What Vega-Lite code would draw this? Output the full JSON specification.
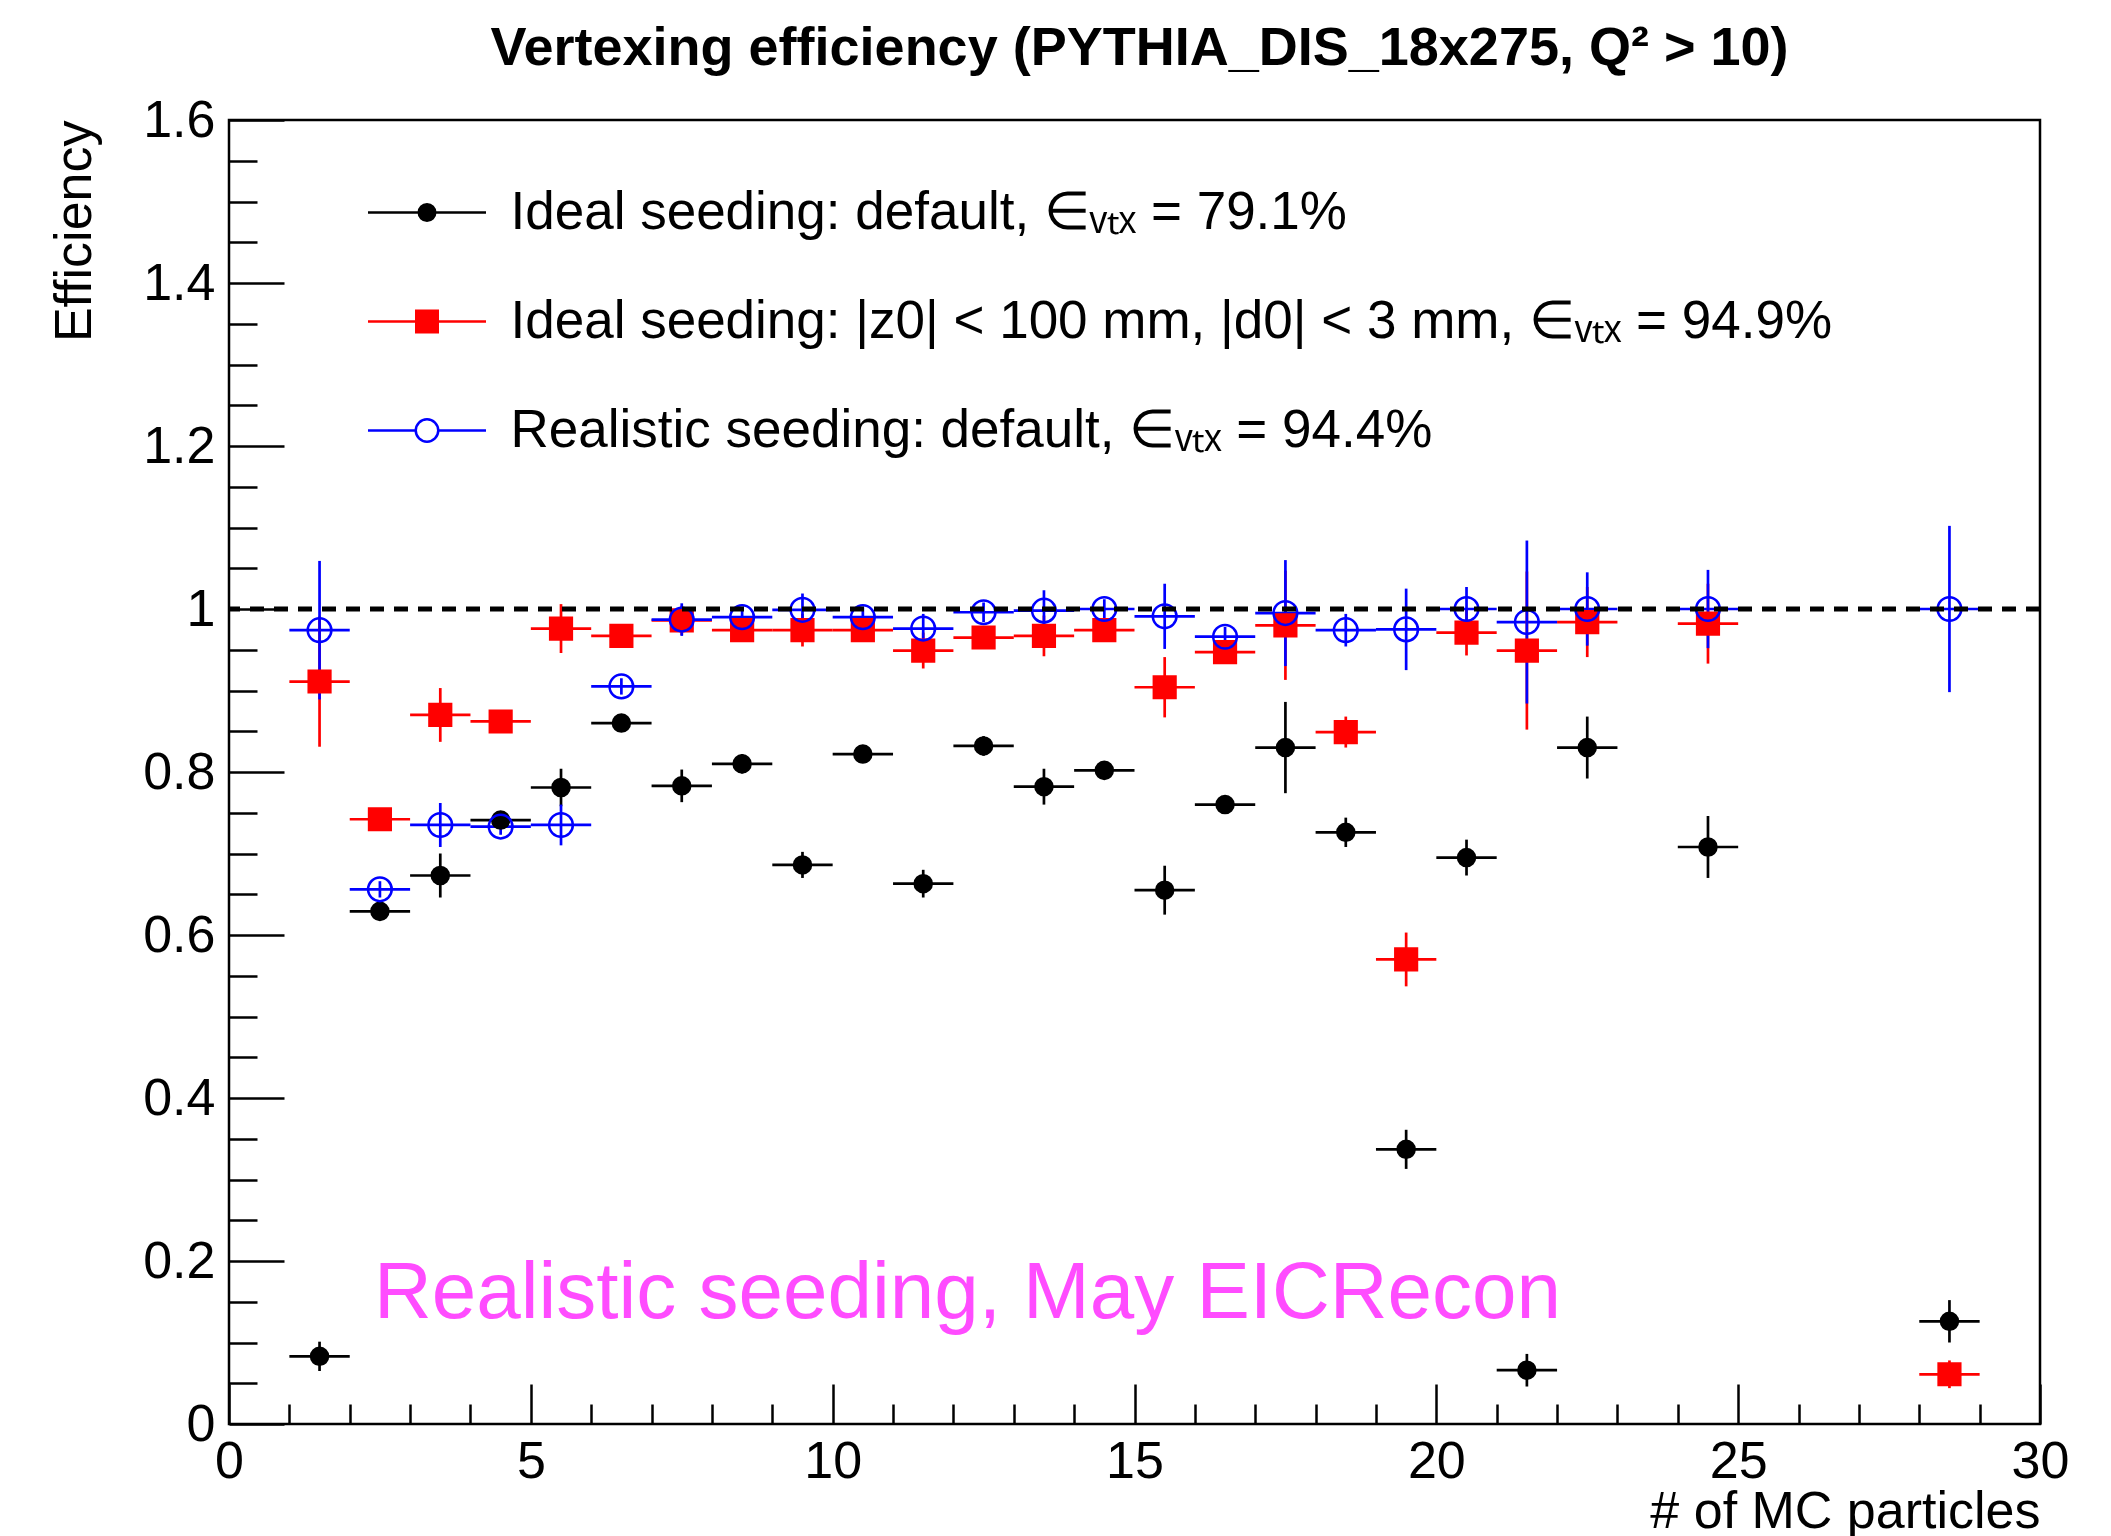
{
  "$schema": "https://vega.github.io/schema/vega-lite/v6.json",
  "width": 1811,
  "height": 1304,
  "autosize": {"type": "none"},
  "padding": {"left": 229, "top": 120, "right": 71, "bottom": 112},
  "background": "white",
  "title": {
    "text": "Vertexing efficiency (PYTHIA_DIS_18x275, Q² > 10)",
    "font": "Liberation Sans",
    "fontSize": 54,
    "fontWeight": "bold",
    "color": "#000",
    "anchor": "middle",
    "frame": "group",
    "baseline": "alphabetic",
    "offset": 14,
    "dx": 5,
    "dy": 39
  },
  "config": {
    "view": {"stroke": "#000", "strokeWidth": 2.5},
    "axis": {
      "grid": false,
      "domain": false,
      "labelFont": "Liberation Sans",
      "labelFontSize": 52,
      "labelColor": "#000",
      "tickColor": "#000",
      "tickWidth": 2.5,
      "titleFont": "Liberation Sans",
      "titleFontSize": 52,
      "titleFontWeight": "normal",
      "titleColor": "#000",
      "labelFlush": false,
      "labelOverlap": false
    },
    "legend": {
      "orient": "none",
      "legendX": 171.5,
      "legendY": 66,
      "padding": 0,
      "symbolSize": 1600,
      "symbolStrokeWidth": 2.5,
      "symbolOffset": 0,
      "labelFont": "Liberation Sans",
      "labelFontSize": 53,
      "labelColor": "#000",
      "labelOffset": 57,
      "labelLimit": 3000,
      "rowPadding": 55
    }
  },
  "data": {
    "values": [
      {"s":"a","n":1.5,"x0":1,"x1":2,"e":0.083,"lo":0.065,"hi":0.101},
      {"s":"a","n":2.5,"x0":2,"x1":3,"e":0.629,"lo":0.619,"hi":0.639},
      {"s":"a","n":3.5,"x0":3,"x1":4,"e":0.673,"lo":0.646,"hi":0.700},
      {"s":"a","n":4.5,"x0":4,"x1":5,"e":0.741,"lo":0.731,"hi":0.751},
      {"s":"a","n":5.5,"x0":5,"x1":6,"e":0.781,"lo":0.758,"hi":0.804},
      {"s":"a","n":6.5,"x0":6,"x1":7,"e":0.860,"lo":0.850,"hi":0.870},
      {"s":"a","n":7.5,"x0":7,"x1":8,"e":0.783,"lo":0.763,"hi":0.803},
      {"s":"a","n":8.5,"x0":8,"x1":9,"e":0.810,"lo":0.798,"hi":0.822},
      {"s":"a","n":9.5,"x0":9,"x1":10,"e":0.686,"lo":0.670,"hi":0.702},
      {"s":"a","n":10.5,"x0":10,"x1":11,"e":0.822,"lo":0.812,"hi":0.832},
      {"s":"a","n":11.5,"x0":11,"x1":12,"e":0.663,"lo":0.646,"hi":0.680},
      {"s":"a","n":12.5,"x0":12,"x1":13,"e":0.832,"lo":0.820,"hi":0.844},
      {"s":"a","n":13.5,"x0":13,"x1":14,"e":0.782,"lo":0.760,"hi":0.804},
      {"s":"a","n":14.5,"x0":14,"x1":15,"e":0.802,"lo":0.792,"hi":0.812},
      {"s":"a","n":15.5,"x0":15,"x1":16,"e":0.655,"lo":0.625,"hi":0.685},
      {"s":"a","n":16.5,"x0":16,"x1":17,"e":0.760,"lo":0.750,"hi":0.770},
      {"s":"a","n":17.5,"x0":17,"x1":18,"e":0.830,"lo":0.774,"hi":0.886},
      {"s":"a","n":18.5,"x0":18,"x1":19,"e":0.726,"lo":0.708,"hi":0.744},
      {"s":"a","n":19.5,"x0":19,"x1":20,"e":0.337,"lo":0.313,"hi":0.361},
      {"s":"a","n":20.5,"x0":20,"x1":21,"e":0.695,"lo":0.673,"hi":0.717},
      {"s":"a","n":21.5,"x0":21,"x1":22,"e":0.066,"lo":0.046,"hi":0.086},
      {"s":"a","n":22.5,"x0":22,"x1":23,"e":0.830,"lo":0.792,"hi":0.868},
      {"s":"a","n":24.5,"x0":24,"x1":25,"e":0.708,"lo":0.670,"hi":0.746},
      {"s":"a","n":28.5,"x0":28,"x1":29,"e":0.126,"lo":0.100,"hi":0.152},
      {"s":"b","n":1.5,"x0":1,"x1":2,"e":0.911,"lo":0.831,"hi":0.991},
      {"s":"b","n":2.5,"x0":2,"x1":3,"e":0.742,"lo":0.732,"hi":0.752},
      {"s":"b","n":3.5,"x0":3,"x1":4,"e":0.870,"lo":0.837,"hi":0.903},
      {"s":"b","n":4.5,"x0":4,"x1":5,"e":0.862,"lo":0.852,"hi":0.872},
      {"s":"b","n":5.5,"x0":5,"x1":6,"e":0.976,"lo":0.946,"hi":1.006},
      {"s":"b","n":6.5,"x0":6,"x1":7,"e":0.967,"lo":0.955,"hi":0.979},
      {"s":"b","n":7.5,"x0":7,"x1":8,"e":0.986,"lo":0.968,"hi":1.004},
      {"s":"b","n":8.5,"x0":8,"x1":9,"e":0.974,"lo":0.962,"hi":0.986},
      {"s":"b","n":9.5,"x0":9,"x1":10,"e":0.974,"lo":0.954,"hi":0.994},
      {"s":"b","n":10.5,"x0":10,"x1":11,"e":0.974,"lo":0.962,"hi":0.986},
      {"s":"b","n":11.5,"x0":11,"x1":12,"e":0.949,"lo":0.927,"hi":0.971},
      {"s":"b","n":12.5,"x0":12,"x1":13,"e":0.965,"lo":0.953,"hi":0.977},
      {"s":"b","n":13.5,"x0":13,"x1":14,"e":0.967,"lo":0.942,"hi":0.992},
      {"s":"b","n":14.5,"x0":14,"x1":15,"e":0.974,"lo":0.962,"hi":0.986},
      {"s":"b","n":15.5,"x0":15,"x1":16,"e":0.904,"lo":0.867,"hi":0.941},
      {"s":"b","n":16.5,"x0":16,"x1":17,"e":0.947,"lo":0.935,"hi":0.959},
      {"s":"b","n":17.5,"x0":17,"x1":18,"e":0.980,"lo":0.913,"hi":1.047},
      {"s":"b","n":18.5,"x0":18,"x1":19,"e":0.849,"lo":0.830,"hi":0.868},
      {"s":"b","n":19.5,"x0":19,"x1":20,"e":0.570,"lo":0.537,"hi":0.603},
      {"s":"b","n":20.5,"x0":20,"x1":21,"e":0.971,"lo":0.943,"hi":0.999},
      {"s":"b","n":21.5,"x0":21,"x1":22,"e":0.949,"lo":0.852,"hi":1.046},
      {"s":"b","n":22.5,"x0":22,"x1":23,"e":0.984,"lo":0.941,"hi":1.027},
      {"s":"b","n":24.5,"x0":24,"x1":25,"e":0.982,"lo":0.933,"hi":1.031},
      {"s":"b","n":28.5,"x0":28,"x1":29,"e":0.061,"lo":0.044,"hi":0.078},
      {"s":"c","n":1.5,"x0":1,"x1":2,"e":0.974,"lo":0.889,"hi":1.059},
      {"s":"c","n":2.5,"x0":2,"x1":3,"e":0.656,"lo":0.646,"hi":0.666},
      {"s":"c","n":3.5,"x0":3,"x1":4,"e":0.735,"lo":0.708,"hi":0.762},
      {"s":"c","n":4.5,"x0":4,"x1":5,"e":0.733,"lo":0.723,"hi":0.743},
      {"s":"c","n":5.5,"x0":5,"x1":6,"e":0.735,"lo":0.710,"hi":0.760},
      {"s":"c","n":6.5,"x0":6,"x1":7,"e":0.905,"lo":0.895,"hi":0.915},
      {"s":"c","n":7.5,"x0":7,"x1":8,"e":0.987,"lo":0.967,"hi":1.007},
      {"s":"c","n":8.5,"x0":8,"x1":9,"e":0.990,"lo":0.978,"hi":1.002},
      {"s":"c","n":9.5,"x0":9,"x1":10,"e":0.999,"lo":0.979,"hi":1.019},
      {"s":"c","n":10.5,"x0":10,"x1":11,"e":0.990,"lo":0.978,"hi":1.002},
      {"s":"c","n":11.5,"x0":11,"x1":12,"e":0.976,"lo":0.958,"hi":0.994},
      {"s":"c","n":12.5,"x0":12,"x1":13,"e":0.996,"lo":0.984,"hi":1.008},
      {"s":"c","n":13.5,"x0":13,"x1":14,"e":0.998,"lo":0.973,"hi":1.023},
      {"s":"c","n":14.5,"x0":14,"x1":15,"e":1.000,"lo":0.988,"hi":1.012},
      {"s":"c","n":15.5,"x0":15,"x1":16,"e":0.991,"lo":0.951,"hi":1.031},
      {"s":"c","n":16.5,"x0":16,"x1":17,"e":0.966,"lo":0.954,"hi":0.978},
      {"s":"c","n":17.5,"x0":17,"x1":18,"e":0.995,"lo":0.930,"hi":1.060},
      {"s":"c","n":18.5,"x0":18,"x1":19,"e":0.974,"lo":0.954,"hi":0.994},
      {"s":"c","n":19.5,"x0":19,"x1":20,"e":0.975,"lo":0.925,"hi":1.025},
      {"s":"c","n":20.5,"x0":20,"x1":21,"e":1.000,"lo":0.973,"hi":1.027},
      {"s":"c","n":21.5,"x0":21,"x1":22,"e":0.984,"lo":0.884,"hi":1.084},
      {"s":"c","n":22.5,"x0":22,"x1":23,"e":1.000,"lo":0.955,"hi":1.045},
      {"s":"c","n":24.5,"x0":24,"x1":25,"e":1.000,"lo":0.952,"hi":1.048},
      {"s":"c","n":28.5,"x0":28,"x1":29,"e":1.000,"lo":0.898,"hi":1.102}
    ]
  },
  "resolve": {"axis": {"x": "independent", "y": "independent"}},
  "layer": [
    {
      "mark": {"type": "rule", "strokeWidth": 2.7},
      "encoding": {
        "x": {
          "field": "x0", "type": "quantitative",
          "scale": {"domain": [0, 30], "nice": false, "zero": false},
          "axis": {
            "orient": "bottom", "values": [0, 5, 10, 15, 20, 25, 30], "ticks": false,
            "labelPadding": 12, "format": "d",
            "title": "# of MC particles", "titleAnchor": "end", "titleAlign": "right",
            "titleBaseline": "alphabetic", "titleX": 1811, "titleY": 103, "titleAngle": 0
          }
        },
        "x2": {"field": "x1"},
        "y": {
          "field": "e", "type": "quantitative",
          "scale": {"domain": [0, 1.6], "nice": false, "zero": false},
          "axis": {
            "orient": "left", "values": [0, 0.2, 0.4, 0.6, 0.8, 1, 1.2, 1.4, 1.6], "ticks": false,
            "labelPadding": 14, "format": "~g",
            "title": "Efficiency", "titleAnchor": "end", "titleAlign": "right",
            "titleBaseline": "alphabetic", "titleAngle": 270, "titleX": -139, "titleY": 0
          }
        },
        "stroke": {
          "condition": [{"test": "datum.s === 'a'", "value": "#000000"}, {"test": "datum.s === 'b'", "value": "#ff0000"}],
          "value": "#0000ff"
        }
      }
    },
    {
      "mark": {"type": "rule", "strokeWidth": 2.7},
      "encoding": {
        "x": {
          "field": "n", "type": "quantitative",
          "scale": {"domain": [0, 30], "nice": false, "zero": false},
          "axis": {"orient": "bottom", "values": [0, 5, 10, 15, 20, 25, 30], "labels": false, "tickSize": -40, "title": null}
        },
        "y": {
          "field": "lo", "type": "quantitative",
          "scale": {"domain": [0, 1.6], "nice": false, "zero": false},
          "axis": {"orient": "left", "values": [0, 0.2, 0.4, 0.6, 0.8, 1, 1.2, 1.4, 1.6], "labels": false, "tickSize": -55, "title": null}
        },
        "y2": {"field": "hi"},
        "stroke": {
          "condition": [{"test": "datum.s === 'a'", "value": "#000000"}, {"test": "datum.s === 'b'", "value": "#ff0000"}],
          "value": "#0000ff"
        }
      }
    },
    {
      "mark": {"type": "point", "filled": true, "opacity": 1, "strokeWidth": 2.5},
      "encoding": {
        "x": {
          "field": "n", "type": "quantitative",
          "scale": {"domain": [0, 30], "nice": false, "zero": false},
          "axis": {"orient": "bottom", "values": [1,2,3,4,6,7,8,9,11,12,13,14,16,17,18,19,21,22,23,24,26,27,28,29], "labels": false, "tickSize": -20, "title": null}
        },
        "y": {
          "field": "e", "type": "quantitative",
          "scale": {"domain": [0, 1.6], "nice": false, "zero": false},
          "axis": {"orient": "left", "values": [0.05,0.1,0.15,0.25,0.3,0.35,0.45,0.5,0.55,0.65,0.7,0.75,0.85,0.9,0.95,1.05,1.1,1.15,1.25,1.3,1.35,1.45,1.5,1.55], "labels": false, "tickSize": -28, "title": null}
        },
        "shape": {"condition": {"test": "datum.s === 'b'", "value": "square"}, "value": "circle"},
        "size": {
          "condition": [{"test": "datum.s === 'a'", "value": 290}, {"test": "datum.s === 'b'", "value": 470}],
          "value": 560
        },
        "fill": {
          "condition": [{"test": "datum.s === 'a'", "value": "#000000"}, {"test": "datum.s === 'b'", "value": "#ff0000"}],
          "value": "transparent"
        },
        "stroke": {
          "condition": [{"test": "datum.s === 'a'", "value": "#000000"}, {"test": "datum.s === 'b'", "value": "#ff0000"}],
          "value": "#0000ff"
        }
      }
    },
    {
      "data": {"values": [{"ref": 1}]},
      "mark": {"type": "rule", "stroke": "#000000", "strokeWidth": 5, "strokeDash": [14, 10]},
      "encoding": {
        "y": {"field": "ref", "type": "quantitative", "scale": {"domain": [0, 1.6], "nice": false, "zero": false}, "axis": null}
      }
    },
    {
      "mark": {"type": "point", "filled": true, "opacity": 1, "clip": true},
      "encoding": {
        "x": {"field": "n", "type": "quantitative", "scale": {"domain": [0, 30], "nice": false, "zero": false}, "axis": null},
        "y": {"datum": -1, "type": "quantitative", "scale": {"domain": [0, 1.6], "nice": false, "zero": false}, "axis": null},
        "shape": {
          "field": "s", "type": "nominal",
          "scale": {
            "domain": ["a", "b", "c"],
            "range": [
              "M-2.95,0H2.95M-0.4125,0A0.4125,0.4125,0,1,0,0.4125,0A0.4125,0.4125,0,1,0,-0.4125,0Z",
              "M-2.95,0H2.95M-0.5375,-0.5375H0.5375V0.5375H-0.5375Z",
              "M-2.95,0H-0.5625M0.5625,0H2.95M-0.5625,0A0.5625,0.5625,0,1,0,0.5625,0A0.5625,0.5625,0,1,0,-0.5625,0Z"
            ]
          },
          "legend": {"title": null, "labelExpr": "datum.label === 'a' ? 'Ideal seeding: default, ∈ᵥₜₓ = 79.1%' : datum.label === 'b' ? 'Ideal seeding: |z0| < 100 mm, |d0| < 3 mm, ∈ᵥₜₓ = 94.9%' : 'Realistic seeding: default, ∈ᵥₜₓ = 94.4%'"}
        },
        "fill": {
          "field": "s", "type": "nominal",
          "scale": {"domain": ["a", "b", "c"], "range": ["#000000", "#ff0000", "#ffffff"]},
          "legend": {"title": null, "labelExpr": "datum.label === 'a' ? 'Ideal seeding: default, ∈ᵥₜₓ = 79.1%' : datum.label === 'b' ? 'Ideal seeding: |z0| < 100 mm, |d0| < 3 mm, ∈ᵥₜₓ = 94.9%' : 'Realistic seeding: default, ∈ᵥₜₓ = 94.4%'"}
        },
        "stroke": {
          "field": "s", "type": "nominal",
          "scale": {"domain": ["a", "b", "c"], "range": ["#000000", "#ff0000", "#0000ff"]},
          "legend": {"title": null, "labelExpr": "datum.label === 'a' ? 'Ideal seeding: default, ∈ᵥₜₓ = 79.1%' : datum.label === 'b' ? 'Ideal seeding: |z0| < 100 mm, |d0| < 3 mm, ∈ᵥₜₓ = 94.9%' : 'Realistic seeding: default, ∈ᵥₜₓ = 94.4%'"}
        }
      }
    },
    {
      "data": {"values": [{"note": "Realistic seeding, May EICRecon"}]},
      "mark": {"type": "text", "align": "left", "baseline": "alphabetic", "font": "Liberation Sans", "fontSize": 80, "color": "#ff4cff"},
      "encoding": {
        "x": {"datum": 2.4, "type": "quantitative", "scale": {"domain": [0, 30], "nice": false, "zero": false}, "axis": null},
        "y": {"datum": 0.13, "type": "quantitative", "scale": {"domain": [0, 1.6], "nice": false, "zero": false}, "axis": null},
        "text": {"field": "note"}
      }
    }
  ]
}
